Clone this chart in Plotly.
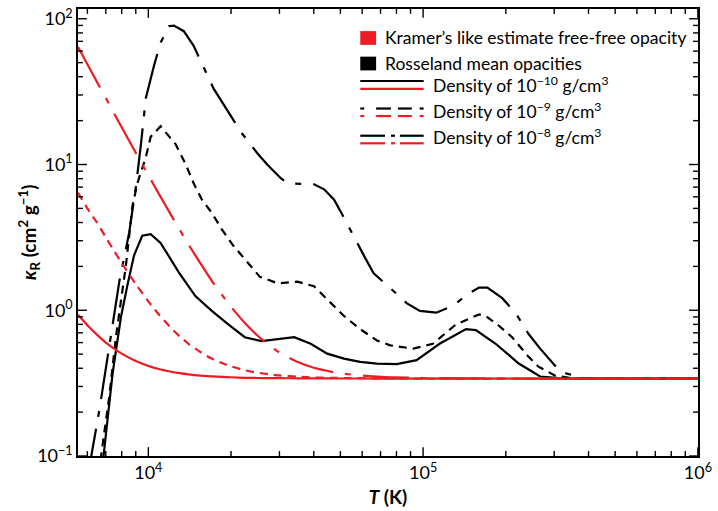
import plotly.graph_objects as go

# ---- Kramer's-like free-free estimate (red) -------------------------------
T_ff = [5550, 6000, 6500, 7000, 7500, 8000, 9000, 10000, 11000, 12000, 13000,
        14000, 15500, 17000, 18500, 20000, 22500, 25000, 27500, 30000, 35000,
        40000, 50000, 70000, 100000, 200000, 1000000]
kff_rho10 = [0.93, 0.79, 0.68, 0.60, 0.546, 0.504, 0.448, 0.415, 0.394, 0.380, 0.370,
             0.363, 0.356, 0.352, 0.349, 0.347, 0.344, 0.343, 0.342, 0.342, 0.341,
             0.3406, 0.3403, 0.340, 0.340, 0.340, 0.340]
kff_rho9 = [6.4, 5.0, 4.0, 3.17, 2.56, 2.11, 1.51, 1.15, 0.92, 0.768, 0.663,
            0.589, 0.515, 0.466, 0.434, 0.412, 0.387, 0.373, 0.364, 0.357, 0.350,
            0.346, 0.343, 0.341, 0.340, 0.340, 0.340]
kff_rho8 = [63.9, 48.8, 36.9, 28.6, 22.5, 18.0, 12.05, 8.44, 6.14, 4.62, 3.57,
            2.83, 2.09, 1.60, 1.28, 1.056, 0.814, 0.668, 0.575, 0.513, 0.441,
            0.403, 0.369, 0.349, 0.343, 0.340, 0.340]

# ---- Rosseland mean opacities (black) -------------------------------------
T_r10 = [6800, 6870, 7413, 7943, 8395, 8872, 9506, 10200, 11080, 12910, 14830,
         17020, 19540, 22440, 25760, 29580, 33970, 38990, 44770, 51500, 59000,
         67900, 80200, 94700, 114800, 143300, 155600, 183700, 222900, 266700,
         328600, 1000000]
kr_r10 = [0.075, 0.1, 0.369, 0.89, 1.49, 2.38, 3.25, 3.33, 2.90, 1.82, 1.25,
          0.99, 0.80, 0.653, 0.614, 0.636, 0.653, 0.589, 0.504, 0.466, 0.443,
          0.431, 0.427, 0.455, 0.589, 0.743, 0.731, 0.589, 0.431, 0.351,
          0.340, 0.340]

T_r9 = [6650, 6730, 7210, 7620, 8290, 8750, 9120, 9790, 10200, 11080, 12560,
        13650, 14620, 15670, 17020, 18490, 20370, 23070, 25420, 29580, 34920,
        40090, 44770, 51500, 59000, 67900, 75900, 92100, 108600, 131800, 159900,
        169000, 188800, 210900, 242100, 263000, 302500, 357000, 1000000]
kr_r9 = [0.075, 0.1, 0.257, 0.653, 2.04, 5.16, 7.43, 11.2, 15.5, 18.3, 13.8,
         10.1, 7.43, 5.73, 4.66, 3.60, 2.78, 2.09, 1.70, 1.53, 1.57,
         1.46, 1.18, 0.914, 0.743, 0.620, 0.574, 0.545, 0.589, 0.80, 0.937,
         0.914, 0.783, 0.653, 0.479, 0.410, 0.356, 0.340, 0.340]

T_r8 = [6120, 6200, 6640, 7210, 7840, 8520, 9010, 9400, 9790, 10490, 11080,
        11880, 12390, 13460, 14620, 17260, 18490, 20090, 21830, 25060, 27230,
        30410, 32140, 40090, 43630, 47420, 51500, 60820, 66070, 75900, 87100,
        97300, 111700, 128200, 147200, 159900, 171400, 194100, 216800, 242100,
        266700, 315500, 388000, 1000000]
kr_r8 = [0.075, 0.1, 0.209, 0.558, 1.57, 3.42, 7.05, 13.8, 28.5, 47.8, 68.6,
         88.9, 89.7, 82.2, 65.2, 33.3, 27.0, 20.9, 16.5, 11.8, 9.87,
         8.02, 7.43, 7.31, 6.76, 5.73, 4.32, 2.38, 1.79, 1.42, 1.12,
         0.99, 0.962, 1.07, 1.31, 1.43, 1.43, 1.21, 0.962, 0.687,
         0.545, 0.379, 0.340, 0.340]

# ---- tick labels ----------------------------------------------------------
x_tick_vals = [1e4, 1e5, 1e6]
x_tick_text = ["10<sup>4</sup>", "10<sup>5</sup>", "10<sup>6</sup>"]
y_tick_vals = [0.1, 1, 10, 100]
y_tick_text = ["10<sup>\u22121</sup>", "10<sup>0</sup>", "10<sup>1</sup>", "10<sup>2</sup>"]

X_RANGE = [3.744, 6.0005]
Y_RANGE = [-1, 2.067]

RED = "#ED1C24"
BLACK = "#000000"
FONT = "Lato"

DASH_SOLID = "solid"
DASH_SHORT = "8px,6px"
DASH_LONG = "46px,12px,6px,12px"

# plot-area geometry in pixels
L, R, TOP, BOT = 78, 704, 6, 461
PLOT_W, PLOT_H = R - L, BOT - TOP

fig = go.Figure()

rosseland = [(T_r10, kr_r10, DASH_SOLID), (T_r9, kr_r9, DASH_SHORT), (T_r8, kr_r8, DASH_LONG)]
kramers = [(T_ff, kff_rho10, DASH_SOLID), (T_ff, kff_rho9, DASH_SHORT), (T_ff, kff_rho8, DASH_LONG)]

for t, k, d in rosseland:
    fig.add_trace(go.Scatter(x=t, y=k, mode="lines", showlegend=False, hoverinfo="skip",
                             line=dict(color=BLACK, width=2.2, dash=d)))
for t, k, d in kramers:
    fig.add_trace(go.Scatter(x=t, y=k, mode="lines", showlegend=False, hoverinfo="skip",
                             line=dict(color=RED, width=2.2, dash=d, shape="spline", smoothing=0.6)))


def minor_positions(lo, hi):
    vals = []
    for e in range(lo, hi):
        for m in range(2, 10):
            vals.append(m * 10.0 ** e)
    return vals


def in_range(v, rng):
    return 10 ** rng[0] <= v <= 10 ** rng[1]


shapes = []

# ---- inside tick marks on all four sides (axis values, domain-relative length)
MAJOR_LEN, MINOR_LEN = 9, 5
TICK_LINE = dict(color="black", width=1.4)

for vals, length in [(x_tick_vals, MAJOR_LEN), (minor_positions(3, 6), MINOR_LEN)]:
    h = length / PLOT_H
    for v in vals:
        if in_range(v, X_RANGE):
            shapes.append(dict(type="line", xref="x", yref="y domain", layer="above",
                               x0=v, x1=v, y0=0, y1=h, line=TICK_LINE))
            shapes.append(dict(type="line", xref="x", yref="y domain", layer="above",
                               x0=v, x1=v, y0=1, y1=1 - h, line=TICK_LINE))

for vals, length in [(y_tick_vals, MAJOR_LEN), (minor_positions(-1, 3), MINOR_LEN)]:
    w = length / PLOT_W
    for v in vals:
        if in_range(v, Y_RANGE):
            shapes.append(dict(type="line", xref="x domain", yref="y", layer="above",
                               x0=0, x1=w, y0=v, y1=v, line=TICK_LINE))
            shapes.append(dict(type="line", xref="x domain", yref="y", layer="above",
                               x0=1, x1=1 - w, y0=v, y1=v, line=TICK_LINE))


# ---- hand-built legend (paper coordinates) --------------------------------
def px(xp):
    return (xp - L) / PLOT_W


def py(yp):
    return (BOT - yp) / PLOT_H


annotations = []

# colour keys
for yc, col in [(35.5, RED), (61.5, BLACK)]:
    shapes.append(dict(type="rect", xref="paper", yref="paper",
                       x0=px(363), x1=px(379), y0=py(yc + 7), y1=py(yc - 7),
                       fillcolor=col, opacity=1, line=dict(width=0)))

legend_text = [
    (35.5, 386, "Kramer\u2019s like estimate free-free opacity"),
    (61.5, 386, "Rosseland mean opacities"),
    (82.5, 434, "Density of 10<sup>\u221210</sup> g/cm<sup>3</sup>"),
    (109.0, 434, "Density of 10<sup>\u22129</sup> g/cm<sup>3</sup>"),
    (136.0, 434, "Density of 10<sup>\u22128</sup> g/cm<sup>3</sup>"),
]
for yc, xl, txt in legend_text:
    annotations.append(dict(xref="paper", yref="paper", x=px(xl), y=py(yc),
                            xanchor="left", yanchor="middle", showarrow=False,
                            text=txt, font=dict(family=FONT, size=17.5, color="black")))

# line keys: black above red, pieces per line style
key_pieces = [
    (79.3, 87.3, [(363, 427)]),
    (107.3, 115.0, [(363, 367), (379, 394), (401, 415), (423, 427)]),
    (135.0, 142.7, [(363, 388), (394, 398), (403, 427)]),
]
for yb, yr, pieces in key_pieces:
    for x0, x1 in pieces:
        for yy, col in [(yb, BLACK), (yr, RED)]:
            shapes.append(dict(type="line", xref="paper", yref="paper",
                               x0=px(x0), x1=px(x1), y0=py(yy), y1=py(yy),
                               opacity=1, line=dict(color=col, width=2.2)))

# y-axis title placed as rotated text
annotations.append(dict(xref="paper", yref="paper", x=px(28), y=0.5,
                        xanchor="center", yanchor="middle", textangle=-90, showarrow=False,
                        text="<b><i>\u03ba</i><sub>R</sub> (cm<sup>2</sup> g<sup>\u22121</sup>)</b>",
                        font=dict(family=FONT, size=19, color="black")))

fig.update_layout(
    width=718, height=511,
    margin=dict(l=L, r=718 - R, t=TOP, b=511 - BOT),
    paper_bgcolor="white", plot_bgcolor="white",
    font=dict(family=FONT, color="black"),
    shapes=shapes,
    annotations=annotations,
)

fig.update_xaxes(
    type="log", range=X_RANGE,
    showline=True, linecolor="black", linewidth=1.5, mirror=True,
    ticks="", tickmode="array", tickvals=x_tick_vals, ticktext=x_tick_text,
    showgrid=False, zeroline=False,
    tickfont=dict(family=FONT, size=18, color="black"),
    title=dict(text="<b><i>T</i> (K)</b>", font=dict(family=FONT, size=19), standoff=8),
)
fig.update_yaxes(
    type="log", range=Y_RANGE,
    showline=True, linecolor="black", linewidth=1.5, mirror=True,
    ticks="", tickmode="array", tickvals=y_tick_vals, ticktext=y_tick_text,
    showgrid=False, zeroline=False,
    tickfont=dict(family=FONT, size=18, color="black"),
)

fig.write_html("out.html")
